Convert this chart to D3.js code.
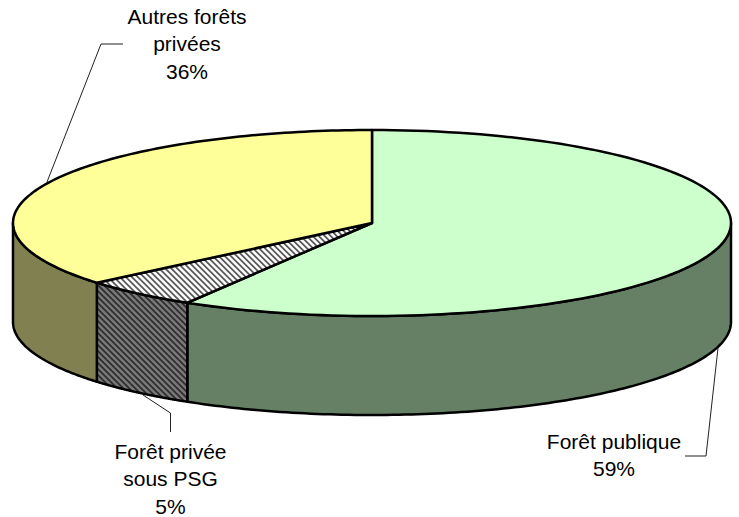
<!DOCTYPE html>
<html>
<head>
  <script src="https://d3js.org/d3.v7.min.js"></script>
  <meta charset="utf-8">
  <title>Forêt</title>
  <style>
    html, body {margin: 0; background: #fff;}
    svg {display: block;}
    text {font-family: "Liberation Sans", Arial, sans-serif; font-size: 21px; fill: #000; text-anchor: middle;}
  </style>
</head>
<body>
  <div id="chart"></div>
  <script>
    /* Data */
    const values = [58.6, 5.3, 36.1];
    const labelLines = [["Forêt publique", "59%"], ["Forêt privée", "sous PSG", "5%"], ["Autres forêts", "privées", "36%"]];

    const width = 739, height = 517;
    const cx = 372, cy = 223, rx = 359, ry = 93, depth = 99;

    const svg = d3.select("#chart").append("svg").attr("width", width).attr("height", height);

    /* Hatch patterns for the small slice */
    const defs = svg.append("defs");
    function hatch(id, bg, fg) {
      const p = defs.append("pattern").attr("id", id)
        .attr("patternUnits", "userSpaceOnUse").attr("width", 4.24).attr("height", 4.24)
        .attr("patternTransform", "rotate(45)");
      p.append("rect").attr("width", 4.24).attr("height", 4.24).attr("fill", bg);
      p.append("rect").attr("width", 4.24).attr("height", 1.8).attr("fill", fg);
    }
    hatch("hatchTop", "#ffffff", "#555555");
    hatch("hatchSide", "#7a7a7a", "#2b2b2b");

    const topColors = ["#ccffcc", "url(#hatchTop)", "#ffff99"];
    const sideColors = ["#668066", "url(#hatchSide)", "#808050"];

    const pie = d3.pie().sort(null).value(d => d);
    const slices = pie(values);

    /* Angle is clockwise from the top, y squashed to make the ellipse */
    const px = a => cx + rx * Math.sin(a);
    const py = (a, z) => cy - ry * Math.cos(a) + z;
    const line = d3.line().x(d => d[0]).y(d => d[1]);

    function rimPoints(a0, a1, z) {
      return d3.range(0, 121).map(i => {
        const a = a0 + (a1 - a0) * i / 120;
        return [px(a), py(a, z)];
      });
    }

    /* Side walls: only the front half of the ellipse shows */
    slices.forEach((s, i) => {
      const a0 = Math.max(s.startAngle, Math.PI / 2);
      const a1 = Math.min(s.endAngle, Math.PI * 1.5);
      if (a1 <= a0) return;
      const pts = rimPoints(a0, a1, 0).concat(rimPoints(a1, a0, depth));
      svg.append("path").attr("d", line(pts) + "Z")
        .attr("fill", sideColors[i]).attr("stroke", "#000").attr("stroke-width", 2.5)
        .attr("stroke-linejoin", "round");
    });

    /* Top faces */
    slices.forEach((s, i) => {
      const pts = [[cx, cy]].concat(rimPoints(s.startAngle, s.endAngle, 0));
      svg.append("path").attr("d", line(pts) + "Z")
        .attr("fill", topColors[i]).attr("stroke", "#000").attr("stroke-width", 2.5)
        .attr("stroke-linejoin", "round");
    });

    /* Leader lines */
    const leaders = [
      [[685, 456], [706, 456], [718, 348]],
      [[170.5, 432], [170.5, 413], [143, 395]],
      [[123, 44], [101, 44], [47, 182]]
    ];
    leaders.forEach(l => {
      svg.append("path").attr("d", line(l)).attr("fill", "none")
        .attr("stroke", "#222").attr("stroke-width", 1);
    });

    /* Labels */
    const labelX = [614, 170.5, 187];
    const labelY = [449, 459, 24];
    const lineHeight = 27.3;
    labelLines.forEach((lines, i) => {
      const t = svg.append("text");
      lines.forEach((txt, j) => {
        t.append("tspan").attr("x", labelX[i]).attr("y", labelY[i] + j * lineHeight).text(txt);
      });
    });
  </script>
</body>
</html>
